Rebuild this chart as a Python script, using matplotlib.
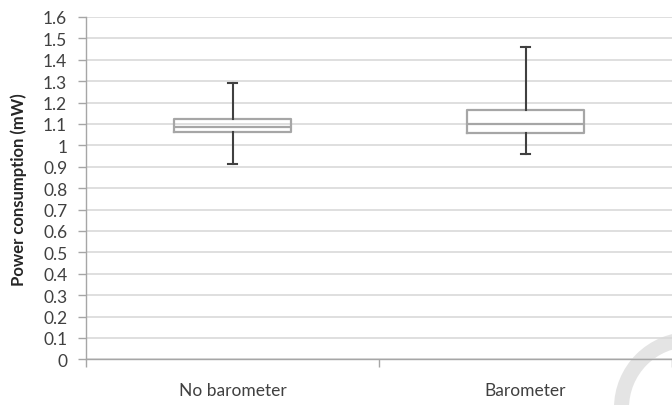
import matplotlib
matplotlib.use("Agg")
import matplotlib.pyplot as plt
import matplotlib.transforms as mtransforms
from matplotlib.patches import Circle

categories = ["No barometer", "Barometer"]
whisker_low = [0.913, 0.961]
q1 = [1.061, 1.059]
median = [1.084, 1.100]
q3 = [1.121, 1.165]
whisker_high = [1.291, 1.458]

yticks = [0, 0.1, 0.2, 0.3, 0.4, 0.5, 0.6, 0.7, 0.8, 0.9, 1, 1.1, 1.2, 1.3, 1.4, 1.5, 1.6]
ytick_labels = ["0", "0.1", "0.2", "0.3", "0.4", "0.5", "0.6", "0.7", "0.8", "0.9",
                "1", "1.1", "1.2", "1.3", "1.4", "1.5", "1.6"]

plt.rcParams['font.family'] = ['Lato', 'DejaVu Sans']

fig = plt.figure(figsize=(6.72, 4.06), dpi=100)
W, H = 672, 406
ax = fig.add_axes([86 / W, 1 - 360.3 / H, (672 - 86) / W, (360.3 - 18) / H])
ax.set_facecolor("none")

stats = []
for i in range(len(categories)):
    stats.append(dict(med=median[i], q1=q1[i], q3=q3[i],
                      whislo=whisker_low[i], whishi=whisker_high[i], fliers=[], label=categories[i]))

ax.bxp(stats, positions=[0.5, 1.5], widths=0.4, showfliers=False,
       boxprops=dict(color="#a6a6a6", linewidth=1.6),
       medianprops=dict(color="#a6a6a6", linewidth=1.6),
       whiskerprops=dict(color="#404040", linewidth=1.5),
       capprops=dict(color="#404040", linewidth=1.5),
       capwidths=0.03, zorder=3)

ax.set_xlim(0, 2)
ax.set_ylim(0, 1.6)
ax.set_yticks(yticks)
ax.set_yticklabels(ytick_labels, fontsize=12.5, color="#404040")
ax.yaxis.grid(True, color="#d9d9d9", linewidth=1.2)
ax.set_axisbelow(True)

ax.set_xticks([0, 1, 2])
ax.set_xticklabels([])
ax.set_xticks([0.5, 1.5], minor=True)
ax.set_xticklabels(categories, minor=True, fontsize=12.5, color="#404040")
ax.tick_params(axis="x", which="minor", length=0, pad=16)
ax.tick_params(axis="x", which="major", length=5.5, color="#a6a6a6", width=1)
ax.tick_params(axis="y", length=5.5, color="#a6a6a6", width=1, pad=8)

for s in ["top", "right"]:
    ax.spines[s].set_visible(False)
for s in ["left", "bottom"]:
    ax.spines[s].set_color("#a6a6a6")
    ax.spines[s].set_linewidth(1.0)

ax.set_ylabel("Power consumption (mW)", fontsize=12, fontweight="bold", color="#262626")
ax.yaxis.set_label_coords(27 / W, 0.5,
                          transform=mtransforms.blended_transform_factory(fig.transFigure, ax.transAxes))

ring = Circle((6.90, -0.03), 0.685, transform=fig.dpi_scale_trans, fill=False,
              edgecolor="#e4e4e4", linewidth=10.8)
fig.add_artist(ring)
ring.set_zorder(-1)

fig.savefig("out.png", dpi=100)
